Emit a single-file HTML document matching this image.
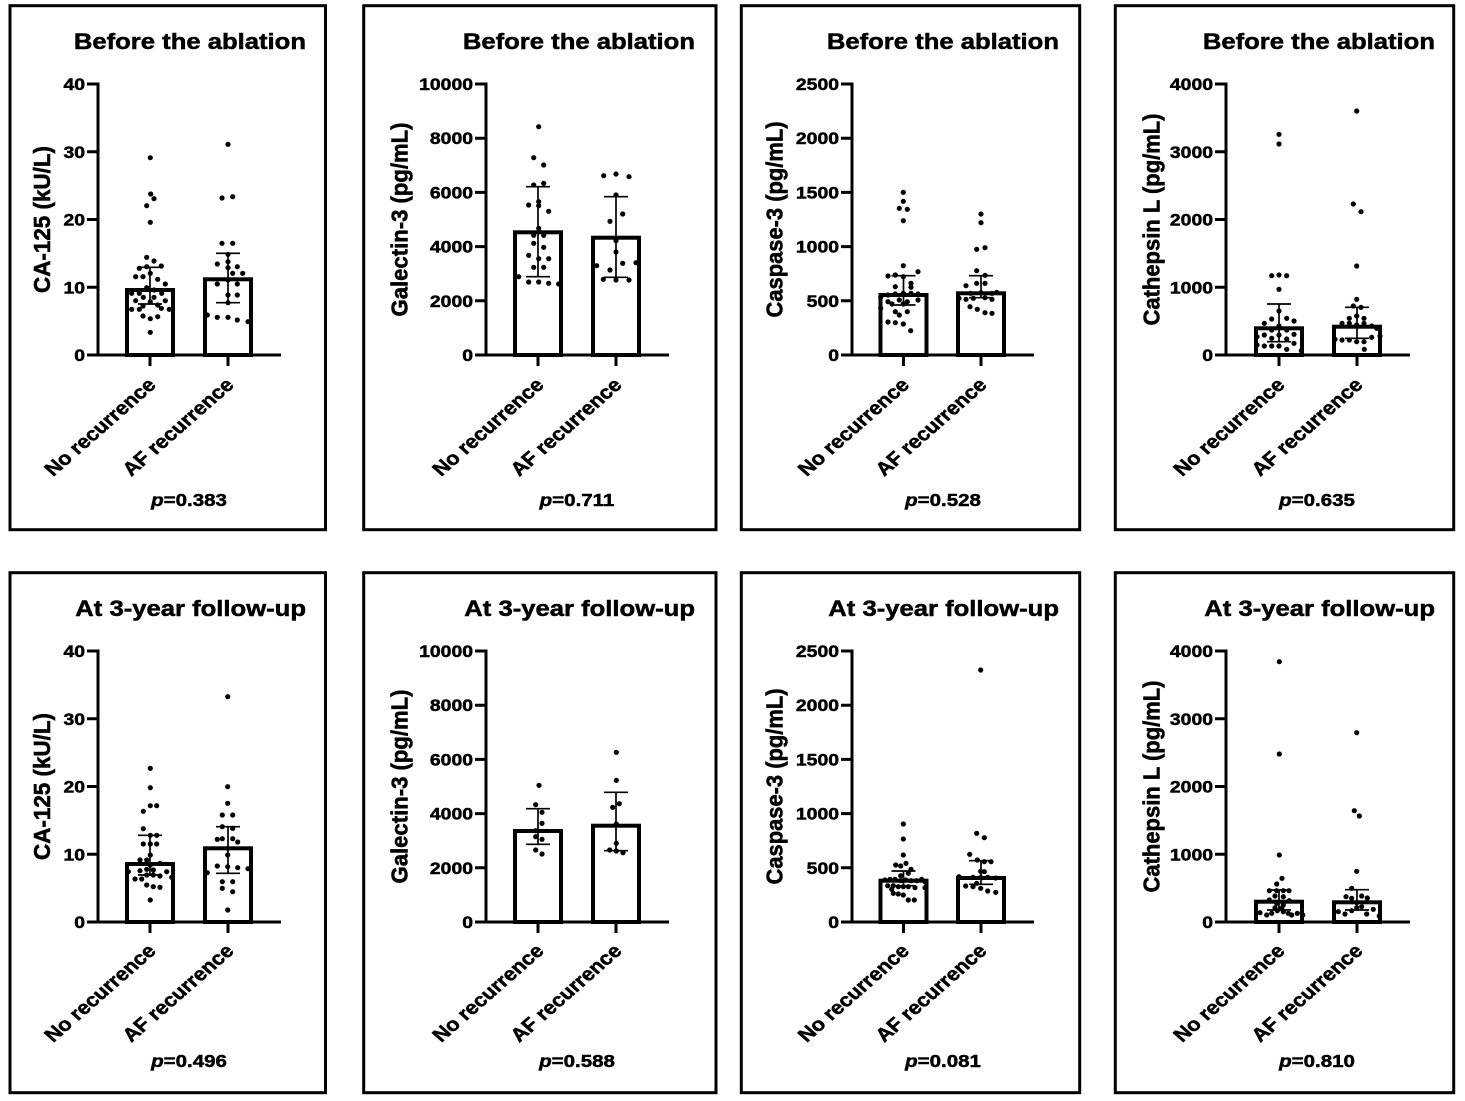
<!DOCTYPE html>
<html><head><meta charset="utf-8"><style>
html,body{margin:0;padding:0;background:#fff;}
svg{display:block;}
text{font-family:"Liberation Sans",Arial,Helvetica,sans-serif;font-weight:bold;fill:#000;stroke:#000;stroke-width:0.5px;}
</style></head><body>
<svg xmlns="http://www.w3.org/2000/svg" width="1465" height="1101" viewBox="0 0 1465 1101">
<rect width="1465" height="1101" fill="#fff"/>
<!-- panel borders -->
<g fill="none" stroke="#000" stroke-width="3">
<rect x="10" y="5.7" width="315.5" height="524"/>
<rect x="363.7" y="5.7" width="352.3" height="524"/>
<rect x="741.3" y="5.7" width="338.4" height="524"/>
<rect x="1115.3" y="5.7" width="338.4" height="524"/>
<rect x="10" y="572.7" width="315.5" height="520"/>
<rect x="363.7" y="572.7" width="352.3" height="520"/>
<rect x="741.3" y="572.7" width="338.4" height="520"/>
<rect x="1115.3" y="572.7" width="338.4" height="520"/>
</g>

<!-- titles -->
<g font-size="22.5" text-anchor="end">
<text transform="translate(306,49) scale(1.14,1)">Before the ablation</text>
<text transform="translate(695,49) scale(1.14,1)">Before the ablation</text>
<text transform="translate(1059,49) scale(1.14,1)">Before the ablation</text>
<text transform="translate(1435,49) scale(1.14,1)">Before the ablation</text>
<text transform="translate(306,616) scale(1.14,1)">At 3-year follow-up</text>
<text transform="translate(695,616) scale(1.14,1)">At 3-year follow-up</text>
<text transform="translate(1059,616) scale(1.14,1)">At 3-year follow-up</text>
<text transform="translate(1435,616) scale(1.14,1)">At 3-year follow-up</text>
</g>

<!-- y labels -->
<g font-size="20.5" text-anchor="middle">
<text transform="translate(50,219.5) scale(1.14,1) rotate(-90)" textLength="147" lengthAdjust="spacingAndGlyphs">CA-125 (kU/L)</text>
<text transform="translate(407.7,219.5) scale(1.14,1) rotate(-90)" textLength="194" lengthAdjust="spacingAndGlyphs">Galectin-3 (pg/mL)</text>
<text transform="translate(782.7,219.5) scale(1.14,1) rotate(-90)" textLength="196" lengthAdjust="spacingAndGlyphs">Caspase-3 (pg/mL)</text>
<text transform="translate(1159.3,219.5) scale(1.14,1) rotate(-90)" textLength="212" lengthAdjust="spacingAndGlyphs">Cathepsin L (pg/mL)</text>
<text transform="translate(50,786.5) scale(1.14,1) rotate(-90)" textLength="147" lengthAdjust="spacingAndGlyphs">CA-125 (kU/L)</text>
<text transform="translate(407.7,786.5) scale(1.14,1) rotate(-90)" textLength="194" lengthAdjust="spacingAndGlyphs">Galectin-3 (pg/mL)</text>
<text transform="translate(782.7,786.5) scale(1.14,1) rotate(-90)" textLength="196" lengthAdjust="spacingAndGlyphs">Caspase-3 (pg/mL)</text>
<text transform="translate(1159.3,786.5) scale(1.14,1) rotate(-90)" textLength="212" lengthAdjust="spacingAndGlyphs">Cathepsin L (pg/mL)</text>
</g>

<!-- tick labels -->
<g font-size="17" text-anchor="end">
<text transform="translate(85,90) scale(1.14,1)">40</text>
<text transform="translate(85,157.75) scale(1.14,1)">30</text>
<text transform="translate(85,225.5) scale(1.14,1)">20</text>
<text transform="translate(85,293.25) scale(1.14,1)">10</text>
<text transform="translate(85,361) scale(1.14,1)">0</text>
<text transform="translate(473,90) scale(1.14,1)">10000</text>
<text transform="translate(473,144.2) scale(1.14,1)">8000</text>
<text transform="translate(473,198.4) scale(1.14,1)">6000</text>
<text transform="translate(473,252.6) scale(1.14,1)">4000</text>
<text transform="translate(473,306.8) scale(1.14,1)">2000</text>
<text transform="translate(473,361) scale(1.14,1)">0</text>
<text transform="translate(839,90) scale(1.14,1)">2500</text>
<text transform="translate(839,144.2) scale(1.14,1)">2000</text>
<text transform="translate(839,198.4) scale(1.14,1)">1500</text>
<text transform="translate(839,252.6) scale(1.14,1)">1000</text>
<text transform="translate(839,306.8) scale(1.14,1)">500</text>
<text transform="translate(839,361) scale(1.14,1)">0</text>
<text transform="translate(1213,90) scale(1.14,1)">4000</text>
<text transform="translate(1213,157.75) scale(1.14,1)">3000</text>
<text transform="translate(1213,225.5) scale(1.14,1)">2000</text>
<text transform="translate(1213,293.25) scale(1.14,1)">1000</text>
<text transform="translate(1213,361) scale(1.14,1)">0</text>
<text transform="translate(85,657) scale(1.14,1)">40</text>
<text transform="translate(85,724.75) scale(1.14,1)">30</text>
<text transform="translate(85,792.5) scale(1.14,1)">20</text>
<text transform="translate(85,860.25) scale(1.14,1)">10</text>
<text transform="translate(85,928) scale(1.14,1)">0</text>
<text transform="translate(473,657) scale(1.14,1)">10000</text>
<text transform="translate(473,711.2) scale(1.14,1)">8000</text>
<text transform="translate(473,765.4) scale(1.14,1)">6000</text>
<text transform="translate(473,819.6) scale(1.14,1)">4000</text>
<text transform="translate(473,873.8) scale(1.14,1)">2000</text>
<text transform="translate(473,928) scale(1.14,1)">0</text>
<text transform="translate(839,657) scale(1.14,1)">2500</text>
<text transform="translate(839,711.2) scale(1.14,1)">2000</text>
<text transform="translate(839,765.4) scale(1.14,1)">1500</text>
<text transform="translate(839,819.6) scale(1.14,1)">1000</text>
<text transform="translate(839,873.8) scale(1.14,1)">500</text>
<text transform="translate(839,928) scale(1.14,1)">0</text>
<text transform="translate(1213,657) scale(1.14,1)">4000</text>
<text transform="translate(1213,724.75) scale(1.14,1)">3000</text>
<text transform="translate(1213,792.5) scale(1.14,1)">2000</text>
<text transform="translate(1213,860.25) scale(1.14,1)">1000</text>
<text transform="translate(1213,928) scale(1.14,1)">0</text>
</g>

<!-- axes -->
<g stroke="#000" stroke-width="3" fill="none">
<path d="M98,82.5V356.5M87,84H98M87,151.75H98M87,219.5H98M87,287.25H98M87,355H281M150,355V366M228,355V366"/>
<path d="M486,82.5V356.5M475,84H486M475,138.2H486M475,192.4H486M475,246.6H486M475,300.8H486M475,355H669M538,355V366M616,355V366"/>
<path d="M852,82.5V356.5M841,84H852M841,138.2H852M841,192.4H852M841,246.6H852M841,300.8H852M841,355H1034M903.5,355V366M981,355V366"/>
<path d="M1226,82.5V356.5M1215,84H1226M1215,151.75H1226M1215,219.5H1226M1215,287.25H1226M1215,355H1410M1279,355V366M1357,355V366"/>
<path d="M98,649.5V923.5M87,651H98M87,718.75H98M87,786.5H98M87,854.25H98M87,922H281M150,922V933M228,922V933"/>
<path d="M486,649.5V923.5M475,651H486M475,705.2H486M475,759.4H486M475,813.6H486M475,867.8H486M475,922H669M538,922V933M616,922V933"/>
<path d="M852,649.5V923.5M841,651H852M841,705.2H852M841,759.4H852M841,813.6H852M841,867.8H852M841,922H1034M903.5,922V933M981,922V933"/>
<path d="M1226,649.5V923.5M1215,651H1226M1215,718.75H1226M1215,786.5H1226M1215,854.25H1226M1215,922H1410M1279,922V933M1357,922V933"/>
</g>

<!-- bars -->
<g fill="#fff" stroke="#000" stroke-width="4">
<rect x="127" y="290" width="46" height="65"/>
<rect x="205" y="279.3" width="46" height="75.7"/>
<rect x="515" y="232.3" width="46" height="122.7"/>
<rect x="593" y="237.7" width="46" height="117.3"/>
<rect x="880.5" y="295" width="46" height="60"/>
<rect x="958" y="293.3" width="46" height="61.7"/>
<rect x="1256" y="328.3" width="46" height="26.7"/>
<rect x="1334" y="326.7" width="46" height="28.3"/>
<rect x="127" y="864" width="46" height="58"/>
<rect x="205" y="848.3" width="46" height="73.7"/>
<rect x="515" y="831" width="46" height="91"/>
<rect x="593" y="825.7" width="46" height="96.3"/>
<rect x="880.5" y="880.7" width="46" height="41.3"/>
<rect x="958" y="878" width="46" height="44"/>
<rect x="1256" y="901.7" width="46" height="20.3"/>
<rect x="1334" y="902.3" width="46" height="19.7"/>
</g>

<!-- dots -->
<g fill="#000">
<circle cx="150.3" cy="157.7" r="2.6"/><circle cx="150.7" cy="194" r="2.6"/><circle cx="154" cy="198.7" r="2.6"/><circle cx="146.7" cy="205.7" r="2.6"/><circle cx="150.3" cy="222.3" r="2.6"/><circle cx="146.7" cy="257.3" r="2.6"/><circle cx="154" cy="261" r="2.6"/><circle cx="139.3" cy="268.3" r="2.6"/><circle cx="146.7" cy="266.7" r="2.6"/><circle cx="161.3" cy="266" r="2.6"/><circle cx="135.7" cy="276.7" r="2.6"/><circle cx="143" cy="276.7" r="2.6"/><circle cx="150.3" cy="273.3" r="2.6"/><circle cx="157.7" cy="279.3" r="2.6"/><circle cx="165.3" cy="284" r="2.6"/><circle cx="146.7" cy="287.7" r="2.6"/><circle cx="154" cy="290" r="2.6"/><circle cx="131.7" cy="293.3" r="2.6"/><circle cx="139.3" cy="293.3" r="2.6"/><circle cx="161.7" cy="293.3" r="2.6"/><circle cx="143.3" cy="297.3" r="2.6"/><circle cx="154" cy="297.3" r="2.6"/><circle cx="135.7" cy="300.7" r="2.6"/><circle cx="165.3" cy="300.7" r="2.6"/><circle cx="150.3" cy="301.7" r="2.6"/><circle cx="143" cy="306" r="2.6"/><circle cx="157.7" cy="305" r="2.6"/><circle cx="131.7" cy="309.3" r="2.6"/><circle cx="139.3" cy="309.3" r="2.6"/><circle cx="169.3" cy="309.3" r="2.6"/><circle cx="161.3" cy="308.3" r="2.6"/><circle cx="143" cy="316" r="2.6"/><circle cx="150.3" cy="318.7" r="2.6"/><circle cx="157.7" cy="316.7" r="2.6"/><circle cx="150.3" cy="332.3" r="2.6"/>
<circle cx="228" cy="144.3" r="2.6"/><circle cx="222" cy="198" r="2.6"/><circle cx="232.7" cy="196.7" r="2.6"/><circle cx="222" cy="243.3" r="2.6"/><circle cx="232.7" cy="243.3" r="2.6"/><circle cx="228" cy="254.3" r="2.6"/><circle cx="217.3" cy="264" r="2.6"/><circle cx="228" cy="261.7" r="2.6"/><circle cx="237.3" cy="266.7" r="2.6"/><circle cx="228" cy="267.7" r="2.6"/><circle cx="242.7" cy="273.3" r="2.6"/><circle cx="232.7" cy="273.3" r="2.6"/><circle cx="217.3" cy="284" r="2.6"/><circle cx="228" cy="280" r="2.6"/><circle cx="237.3" cy="284" r="2.6"/><circle cx="228" cy="295" r="2.6"/><circle cx="237.3" cy="295" r="2.6"/><circle cx="228" cy="302.7" r="2.6"/><circle cx="207.3" cy="315" r="2.6"/><circle cx="217.3" cy="317.3" r="2.6"/><circle cx="228" cy="317.3" r="2.6"/><circle cx="237.3" cy="320" r="2.6"/><circle cx="248" cy="321.7" r="2.6"/>
<circle cx="538.7" cy="126.7" r="2.6"/><circle cx="533.7" cy="157.7" r="2.6"/><circle cx="543.7" cy="165" r="2.6"/><circle cx="533.7" cy="185" r="2.6"/><circle cx="543.7" cy="183.3" r="2.6"/><circle cx="528.7" cy="205" r="2.6"/><circle cx="538.7" cy="201.7" r="2.6"/><circle cx="538.7" cy="205.7" r="2.6"/><circle cx="548.7" cy="211.3" r="2.6"/><circle cx="538.7" cy="228.3" r="2.6"/><circle cx="533.7" cy="235.3" r="2.6"/><circle cx="543.7" cy="235.3" r="2.6"/><circle cx="533.7" cy="243.3" r="2.6"/><circle cx="543.7" cy="247.3" r="2.6"/><circle cx="528.7" cy="255.3" r="2.6"/><circle cx="538.7" cy="258.7" r="2.6"/><circle cx="548.7" cy="258.7" r="2.6"/><circle cx="533.7" cy="267.3" r="2.6"/><circle cx="543.7" cy="267.3" r="2.6"/><circle cx="518.7" cy="276.7" r="2.6"/><circle cx="528.7" cy="282" r="2.6"/><circle cx="538.7" cy="282" r="2.6"/><circle cx="548.7" cy="283.3" r="2.6"/><circle cx="558.7" cy="284" r="2.6"/>
<circle cx="603.7" cy="175.7" r="2.6"/><circle cx="616" cy="174" r="2.6"/><circle cx="629" cy="176.7" r="2.6"/><circle cx="616" cy="195" r="2.6"/><circle cx="610" cy="221.3" r="2.6"/><circle cx="622.7" cy="214" r="2.6"/><circle cx="616" cy="240.7" r="2.6"/><circle cx="616" cy="252" r="2.6"/><circle cx="596.7" cy="265.7" r="2.6"/><circle cx="610" cy="270" r="2.6"/><circle cx="622.7" cy="263.3" r="2.6"/><circle cx="636" cy="262.7" r="2.6"/><circle cx="603.3" cy="279.3" r="2.6"/><circle cx="616" cy="280" r="2.6"/><circle cx="629" cy="280" r="2.6"/>
<circle cx="903.3" cy="192.3" r="2.6"/><circle cx="903.3" cy="201.3" r="2.6"/><circle cx="899.3" cy="208.3" r="2.6"/><circle cx="907.3" cy="209.3" r="2.6"/><circle cx="903.3" cy="220.7" r="2.6"/><circle cx="903.3" cy="265.7" r="2.6"/><circle cx="888" cy="276" r="2.6"/><circle cx="895.3" cy="275" r="2.6"/><circle cx="903.3" cy="276.7" r="2.6"/><circle cx="918" cy="271.7" r="2.6"/><circle cx="911" cy="283.3" r="2.6"/><circle cx="911" cy="287.3" r="2.6"/><circle cx="895.3" cy="286.7" r="2.6"/><circle cx="903.3" cy="293.3" r="2.6"/><circle cx="888" cy="295" r="2.6"/><circle cx="895.3" cy="294" r="2.6"/><circle cx="911" cy="293.3" r="2.6"/><circle cx="918" cy="294" r="2.6"/><circle cx="880.7" cy="297.3" r="2.6"/><circle cx="888" cy="301.7" r="2.6"/><circle cx="899.3" cy="300" r="2.6"/><circle cx="907.3" cy="301.7" r="2.6"/><circle cx="918" cy="300" r="2.6"/><circle cx="892" cy="304" r="2.6"/><circle cx="903.3" cy="304" r="2.6"/><circle cx="880.7" cy="308.3" r="2.6"/><circle cx="895.3" cy="311.7" r="2.6"/><circle cx="907.3" cy="311.7" r="2.6"/><circle cx="899.3" cy="315" r="2.6"/><circle cx="888" cy="322" r="2.6"/><circle cx="895.3" cy="322.7" r="2.6"/><circle cx="903.3" cy="324" r="2.6"/><circle cx="910.7" cy="330.7" r="2.6"/>
<circle cx="981" cy="214" r="2.6"/><circle cx="981" cy="222.7" r="2.6"/><circle cx="976.7" cy="249.3" r="2.6"/><circle cx="985" cy="247.7" r="2.6"/><circle cx="976.7" cy="270.7" r="2.6"/><circle cx="985" cy="275.3" r="2.6"/><circle cx="966" cy="285.7" r="2.6"/><circle cx="976.7" cy="283.3" r="2.6"/><circle cx="985" cy="283.3" r="2.6"/><circle cx="970.7" cy="293.3" r="2.6"/><circle cx="981" cy="292.7" r="2.6"/><circle cx="992" cy="293.3" r="2.6"/><circle cx="996.7" cy="292.3" r="2.6"/><circle cx="959" cy="298.3" r="2.6"/><circle cx="966" cy="299.3" r="2.6"/><circle cx="973.3" cy="298.3" r="2.6"/><circle cx="985" cy="297.7" r="2.6"/><circle cx="992" cy="299.3" r="2.6"/><circle cx="970" cy="306.7" r="2.6"/><circle cx="977.3" cy="309.3" r="2.6"/><circle cx="985" cy="312.7" r="2.6"/><circle cx="992" cy="313.3" r="2.6"/>
<circle cx="1279" cy="134.3" r="2.6"/><circle cx="1279" cy="144" r="2.6"/><circle cx="1271.7" cy="275.7" r="2.6"/><circle cx="1279" cy="275" r="2.6"/><circle cx="1286.7" cy="275.7" r="2.6"/><circle cx="1279" cy="289.3" r="2.6"/><circle cx="1279" cy="311" r="2.6"/><circle cx="1271.7" cy="319" r="2.6"/><circle cx="1286.7" cy="318.3" r="2.6"/><circle cx="1294" cy="321" r="2.6"/><circle cx="1264.3" cy="323.3" r="2.6"/><circle cx="1279" cy="326" r="2.6"/><circle cx="1271.7" cy="330" r="2.6"/><circle cx="1286.7" cy="330" r="2.6"/><circle cx="1264.3" cy="335" r="2.6"/><circle cx="1279" cy="335" r="2.6"/><circle cx="1294" cy="334.3" r="2.6"/><circle cx="1257" cy="336.7" r="2.6"/><circle cx="1271.7" cy="338.3" r="2.6"/><circle cx="1286.7" cy="339" r="2.6"/><circle cx="1257" cy="345" r="2.6"/><circle cx="1264.3" cy="346" r="2.6"/><circle cx="1271.7" cy="346" r="2.6"/><circle cx="1279" cy="346" r="2.6"/><circle cx="1294" cy="343.3" r="2.6"/><circle cx="1286.7" cy="349.3" r="2.6"/><circle cx="1301.3" cy="350.7" r="2.6"/>
<circle cx="1356.7" cy="111" r="2.6"/><circle cx="1353.3" cy="204" r="2.6"/><circle cx="1361" cy="211.7" r="2.6"/><circle cx="1356.7" cy="266" r="2.6"/><circle cx="1356.7" cy="299.3" r="2.6"/><circle cx="1353.3" cy="306" r="2.6"/><circle cx="1361" cy="307.3" r="2.6"/><circle cx="1356.7" cy="316" r="2.6"/><circle cx="1349.3" cy="318.3" r="2.6"/><circle cx="1364" cy="318.3" r="2.6"/><circle cx="1342" cy="323.3" r="2.6"/><circle cx="1349.3" cy="323.3" r="2.6"/><circle cx="1356.7" cy="325" r="2.6"/><circle cx="1364" cy="323.3" r="2.6"/><circle cx="1371.7" cy="326" r="2.6"/><circle cx="1376.7" cy="328.3" r="2.6"/><circle cx="1335" cy="339.3" r="2.6"/><circle cx="1342" cy="340" r="2.6"/><circle cx="1349.3" cy="340" r="2.6"/><circle cx="1356.7" cy="341.7" r="2.6"/><circle cx="1364" cy="341.7" r="2.6"/><circle cx="1371.7" cy="337.3" r="2.6"/><circle cx="1380" cy="336" r="2.6"/><circle cx="1364.3" cy="349.3" r="2.6"/>
<circle cx="150.3" cy="768.3" r="2.6"/><circle cx="150.3" cy="787.7" r="2.6"/><circle cx="150.3" cy="805.7" r="2.6"/><circle cx="156.7" cy="805.7" r="2.6"/><circle cx="143.3" cy="811.3" r="2.6"/><circle cx="143.3" cy="828.7" r="2.6"/><circle cx="150.3" cy="835.3" r="2.6"/><circle cx="156.7" cy="835.3" r="2.6"/><circle cx="143.3" cy="844" r="2.6"/><circle cx="150.3" cy="844" r="2.6"/><circle cx="156.7" cy="844" r="2.6"/><circle cx="150.3" cy="855" r="2.6"/><circle cx="140" cy="860" r="2.6"/><circle cx="146.7" cy="860" r="2.6"/><circle cx="160" cy="863.3" r="2.6"/><circle cx="150.3" cy="865" r="2.6"/><circle cx="140" cy="870.7" r="2.6"/><circle cx="146.7" cy="869.3" r="2.6"/><circle cx="153.3" cy="870" r="2.6"/><circle cx="166.7" cy="871.7" r="2.6"/><circle cx="128.3" cy="871.7" r="2.6"/><circle cx="135" cy="879" r="2.6"/><circle cx="141.7" cy="879" r="2.6"/><circle cx="146.7" cy="875" r="2.6"/><circle cx="153.3" cy="875" r="2.6"/><circle cx="160" cy="876" r="2.6"/><circle cx="171.7" cy="877.3" r="2.6"/><circle cx="146.7" cy="885" r="2.6"/><circle cx="153.3" cy="886.7" r="2.6"/><circle cx="160" cy="887.3" r="2.6"/><circle cx="150.3" cy="900" r="2.6"/>
<circle cx="227.7" cy="696.7" r="2.6"/><circle cx="227.7" cy="786.7" r="2.6"/><circle cx="227.7" cy="803.3" r="2.6"/><circle cx="222.3" cy="815" r="2.6"/><circle cx="232.7" cy="815" r="2.6"/><circle cx="222.3" cy="826.7" r="2.6"/><circle cx="232.7" cy="828.3" r="2.6"/><circle cx="217.3" cy="839.3" r="2.6"/><circle cx="222.3" cy="838.7" r="2.6"/><circle cx="232.7" cy="838.7" r="2.6"/><circle cx="237.7" cy="842" r="2.6"/><circle cx="227.7" cy="848.3" r="2.6"/><circle cx="227.7" cy="855" r="2.6"/><circle cx="217.3" cy="866" r="2.6"/><circle cx="227.7" cy="866.7" r="2.6"/><circle cx="237.7" cy="867.7" r="2.6"/><circle cx="248" cy="868.7" r="2.6"/><circle cx="207.3" cy="872.7" r="2.6"/><circle cx="222.3" cy="881.7" r="2.6"/><circle cx="232.7" cy="881.7" r="2.6"/><circle cx="222.3" cy="888.3" r="2.6"/><circle cx="232.7" cy="891.7" r="2.6"/><circle cx="227.7" cy="910" r="2.6"/>
<circle cx="539" cy="785.3" r="2.6"/><circle cx="535.7" cy="804.7" r="2.6"/><circle cx="542" cy="812.3" r="2.6"/><circle cx="542" cy="823.3" r="2.6"/><circle cx="535.7" cy="830.7" r="2.6"/><circle cx="535.7" cy="836.7" r="2.6"/><circle cx="542" cy="839.3" r="2.6"/><circle cx="535.7" cy="850" r="2.6"/><circle cx="542" cy="854" r="2.6"/>
<circle cx="616.3" cy="752.3" r="2.6"/><circle cx="616.3" cy="780.3" r="2.6"/><circle cx="619.3" cy="803.7" r="2.6"/><circle cx="612.7" cy="807.3" r="2.6"/><circle cx="616.3" cy="824" r="2.6"/><circle cx="616.3" cy="843.3" r="2.6"/><circle cx="609.7" cy="850" r="2.6"/><circle cx="616.3" cy="851" r="2.6"/><circle cx="623" cy="852.7" r="2.6"/>
<circle cx="903.3" cy="824" r="2.6"/><circle cx="903.3" cy="839" r="2.6"/><circle cx="903.3" cy="855" r="2.6"/><circle cx="895.7" cy="865" r="2.6"/><circle cx="900.7" cy="866" r="2.6"/><circle cx="906" cy="863.3" r="2.6"/><circle cx="911" cy="869.3" r="2.6"/><circle cx="900.7" cy="875.7" r="2.6"/><circle cx="908.3" cy="873.3" r="2.6"/><circle cx="885" cy="880" r="2.6"/><circle cx="890" cy="879.3" r="2.6"/><circle cx="895" cy="879.3" r="2.6"/><circle cx="900.7" cy="880.7" r="2.6"/><circle cx="905.7" cy="880" r="2.6"/><circle cx="911" cy="880.7" r="2.6"/><circle cx="916.7" cy="880.7" r="2.6"/><circle cx="921.7" cy="879.3" r="2.6"/><circle cx="925" cy="881.7" r="2.6"/><circle cx="887.7" cy="885.7" r="2.6"/><circle cx="893.3" cy="885.7" r="2.6"/><circle cx="898.3" cy="886.7" r="2.6"/><circle cx="903.3" cy="886.7" r="2.6"/><circle cx="908.3" cy="886.7" r="2.6"/><circle cx="915" cy="887.7" r="2.6"/><circle cx="925" cy="887.7" r="2.6"/><circle cx="891.7" cy="889.3" r="2.6"/><circle cx="893.3" cy="893.3" r="2.6"/><circle cx="898.3" cy="894" r="2.6"/><circle cx="903.3" cy="895" r="2.6"/><circle cx="908.3" cy="900" r="2.6"/><circle cx="914.3" cy="900" r="2.6"/>
<circle cx="980.7" cy="670" r="2.6"/><circle cx="976.7" cy="833.3" r="2.6"/><circle cx="984.3" cy="837.7" r="2.6"/><circle cx="969.7" cy="854.3" r="2.6"/><circle cx="977.3" cy="860" r="2.6"/><circle cx="984.3" cy="861.7" r="2.6"/><circle cx="991" cy="861.7" r="2.6"/><circle cx="980.7" cy="871.3" r="2.6"/><circle cx="984.3" cy="871.7" r="2.6"/><circle cx="959" cy="876.7" r="2.6"/><circle cx="973" cy="877.3" r="2.6"/><circle cx="980.7" cy="877.3" r="2.6"/><circle cx="987.7" cy="877.3" r="2.6"/><circle cx="995.7" cy="878" r="2.6"/><circle cx="976.7" cy="883.3" r="2.6"/><circle cx="965.7" cy="886" r="2.6"/><circle cx="973" cy="886.7" r="2.6"/><circle cx="980.7" cy="888.3" r="2.6"/><circle cx="987.7" cy="891" r="2.6"/><circle cx="995.7" cy="892.3" r="2.6"/>
<circle cx="1279.3" cy="661.7" r="2.6"/><circle cx="1279.3" cy="754" r="2.6"/><circle cx="1279.3" cy="855" r="2.6"/><circle cx="1282" cy="878.3" r="2.6"/><circle cx="1276.7" cy="884" r="2.6"/><circle cx="1269.3" cy="890.7" r="2.6"/><circle cx="1276.7" cy="890.7" r="2.6"/><circle cx="1283.3" cy="890.7" r="2.6"/><circle cx="1289" cy="890.7" r="2.6"/><circle cx="1275" cy="896" r="2.6"/><circle cx="1283.3" cy="896.7" r="2.6"/><circle cx="1269.3" cy="900" r="2.6"/><circle cx="1289.3" cy="900.7" r="2.6"/><circle cx="1276.7" cy="903.3" r="2.6"/><circle cx="1283.3" cy="905" r="2.6"/><circle cx="1275" cy="907.7" r="2.6"/><circle cx="1281.7" cy="908.3" r="2.6"/><circle cx="1260" cy="912.7" r="2.6"/><circle cx="1266.7" cy="915" r="2.6"/><circle cx="1271.7" cy="913.3" r="2.6"/><circle cx="1277.3" cy="910.7" r="2.6"/><circle cx="1283.3" cy="911.7" r="2.6"/><circle cx="1288.3" cy="913.3" r="2.6"/><circle cx="1291.7" cy="915" r="2.6"/><circle cx="1297.3" cy="913.3" r="2.6"/><circle cx="1302.7" cy="915" r="2.6"/>
<circle cx="1356.7" cy="732.7" r="2.6"/><circle cx="1354.3" cy="810.7" r="2.6"/><circle cx="1359.3" cy="816" r="2.6"/><circle cx="1356.7" cy="871.3" r="2.6"/><circle cx="1351.7" cy="888.3" r="2.6"/><circle cx="1346" cy="896.7" r="2.6"/><circle cx="1351.7" cy="898.3" r="2.6"/><circle cx="1361.7" cy="896" r="2.6"/><circle cx="1367.3" cy="898" r="2.6"/><circle cx="1356.7" cy="902.7" r="2.6"/><circle cx="1361.7" cy="906.7" r="2.6"/><circle cx="1338.3" cy="911.7" r="2.6"/><circle cx="1345" cy="914" r="2.6"/><circle cx="1351.7" cy="910.7" r="2.6"/><circle cx="1356.7" cy="907.7" r="2.6"/><circle cx="1366.7" cy="914" r="2.6"/><circle cx="1373.3" cy="909.3" r="2.6"/><circle cx="1379.3" cy="916" r="2.6"/>
</g>

<!-- error bars -->
<g stroke="#000" stroke-width="1.7" fill="none">
<path d="M150,267.3V304M138,267.3H162M138,304H162"/>
<path d="M228,253.3V302.7M216,253.3H240M216,302.7H240"/>
<path d="M538,186.7V276.7M526,186.7H550M526,276.7H550"/>
<path d="M616,196.7V277.3M604,196.7H628M604,277.3H628"/>
<path d="M903.5,275.7V305M891.5,275.7H915.5M891.5,305H915.5"/>
<path d="M981,275.7V297.7M969,275.7H993M969,297.7H993"/>
<path d="M1279,304V341.7M1267,304H1291M1267,341.7H1291"/>
<path d="M1357,307.3V338.3M1345,307.3H1369M1345,338.3H1369"/>
<path d="M150,835.3V875M138,835.3H162M138,875H162"/>
<path d="M228,826.7V873.3M216,826.7H240M216,873.3H240"/>
<path d="M538,808.7V844.3M526,808.7H550M526,844.3H550"/>
<path d="M616,792.3V850.7M604,792.3H628M604,850.7H628"/>
<path d="M903.5,871V885.7M891.5,871H915.5M891.5,885.7H915.5"/>
<path d="M981,860.7V884.3M969,860.7H993M969,884.3H993"/>
<path d="M1279,890V910M1267,890H1291M1267,910H1291"/>
<path d="M1357,889.7V910M1345,889.7H1369M1345,910H1369"/>
</g>

<!-- category labels -->
<g font-size="19" text-anchor="end">
<text transform="translate(157,386) scale(1.14,1) rotate(-45)">No recurrence</text>
<text transform="translate(235,386) scale(1.14,1) rotate(-45)">AF recurrence</text>
<text transform="translate(545,386) scale(1.14,1) rotate(-45)">No recurrence</text>
<text transform="translate(623,386) scale(1.14,1) rotate(-45)">AF recurrence</text>
<text transform="translate(910.5,386) scale(1.14,1) rotate(-45)">No recurrence</text>
<text transform="translate(988,386) scale(1.14,1) rotate(-45)">AF recurrence</text>
<text transform="translate(1286,386) scale(1.14,1) rotate(-45)">No recurrence</text>
<text transform="translate(1364,386) scale(1.14,1) rotate(-45)">AF recurrence</text>
<text transform="translate(157,952) scale(1.14,1) rotate(-45)">No recurrence</text>
<text transform="translate(235,952) scale(1.14,1) rotate(-45)">AF recurrence</text>
<text transform="translate(545,952) scale(1.14,1) rotate(-45)">No recurrence</text>
<text transform="translate(623,952) scale(1.14,1) rotate(-45)">AF recurrence</text>
<text transform="translate(910.5,952) scale(1.14,1) rotate(-45)">No recurrence</text>
<text transform="translate(988,952) scale(1.14,1) rotate(-45)">AF recurrence</text>
<text transform="translate(1286,952) scale(1.14,1) rotate(-45)">No recurrence</text>
<text transform="translate(1364,952) scale(1.14,1) rotate(-45)">AF recurrence</text>
</g>

<!-- p values -->
<g font-size="18" text-anchor="middle">
<text transform="translate(189,506) scale(1.14,1)"><tspan font-style="italic">p</tspan>=0.383</text>
<text transform="translate(577,506) scale(1.14,1)"><tspan font-style="italic">p</tspan>=0.711</text>
<text transform="translate(943,506) scale(1.14,1)"><tspan font-style="italic">p</tspan>=0.528</text>
<text transform="translate(1317,506) scale(1.14,1)"><tspan font-style="italic">p</tspan>=0.635</text>
<text transform="translate(189,1067) scale(1.14,1)"><tspan font-style="italic">p</tspan>=0.496</text>
<text transform="translate(577,1067) scale(1.14,1)"><tspan font-style="italic">p</tspan>=0.588</text>
<text transform="translate(943,1067) scale(1.14,1)"><tspan font-style="italic">p</tspan>=0.081</text>
<text transform="translate(1317,1067) scale(1.14,1)"><tspan font-style="italic">p</tspan>=0.810</text>
</g>
</svg>
</body></html>
